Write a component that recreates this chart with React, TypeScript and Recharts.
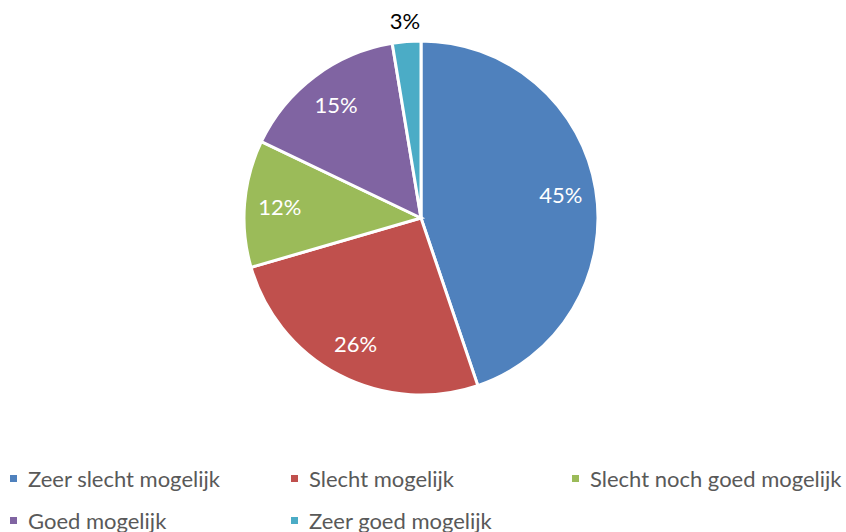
import { PieChart, Pie, Cell, Legend } from 'recharts';

const categories = [
  'Zeer slecht mogelijk',
  'Slecht mogelijk',
  'Slecht noch goed mogelijk',
  'Goed mogelijk',
  'Zeer goed mogelijk',
];
const shares = [44.8, 25.7, 11.6, 15.3, 2.6];
const colors = ['#4F81BD', '#C0504D', '#9BBB59', '#8064A2', '#4BACC6'];

const data = categories.map((name, i) => ({ name, value: shares[i] }));

const FONT = 'Lato, "Open Sans", sans-serif';
const RADIAN = Math.PI / 180;

function renderLabel(props: any) {
  const { cx, cy, midAngle, outerRadius, value, index } = props;
  const outside = value < 5;
  const r = outside ? outerRadius + 21 : outerRadius * 0.8;
  const x = cx + r * Math.cos(-midAngle * RADIAN);
  const y = cy + r * Math.sin(-midAngle * RADIAN);
  return (
    <text
      key={`lbl-${index}`}
      x={x}
      y={y}
      fill={outside ? '#000000' : '#ffffff'}
      textAnchor="middle"
      dominantBaseline="central"
      fontSize={22}
      fontFamily={FONT}
    >
      {`${Math.round(value)}%`}
    </text>
  );
}

function renderLegend() {
  return (
    <div style={{ display: 'flex', flexWrap: 'wrap', width: 846, fontFamily: FONT }}>
      {categories.map((name, i) => (
        <div
          key={name}
          style={{ width: 281, height: 42, display: 'flex', alignItems: 'center', paddingLeft: 10, boxSizing: 'border-box' }}
        >
          <span style={{ width: 7, height: 7, background: colors[i], display: 'inline-block', marginRight: 11 }} />
          <span style={{ fontSize: 22, color: '#595959' }}>{name}</span>
        </div>
      ))}
    </div>
  );
}

export default function App() {
  return (
    <div style={{ position: 'absolute', left: 0, top: 0, width: 846, height: 532, background: '#fff' }}>
      <PieChart width={846} height={532} margin={{ top: 0, right: 0, bottom: 0, left: 0 }}>
        <Pie
          data={data}
          dataKey="value"
          nameKey="name"
          cx={421}
          cy={218}
          outerRadius={177}
          startAngle={90}
          endAngle={-270}
          stroke="#ffffff"
          strokeWidth={3}
          label={renderLabel}
          labelLine={false}
          isAnimationActive={false}
        >
          {data.map((d, i) => (
            <Cell key={d.name} fill={colors[i]} />
          ))}
        </Pie>
        <Legend
          content={renderLegend}
          wrapperStyle={{ position: 'absolute', left: 0, top: 457, width: 846 }}
        />
      </PieChart>
    </div>
  );
}
